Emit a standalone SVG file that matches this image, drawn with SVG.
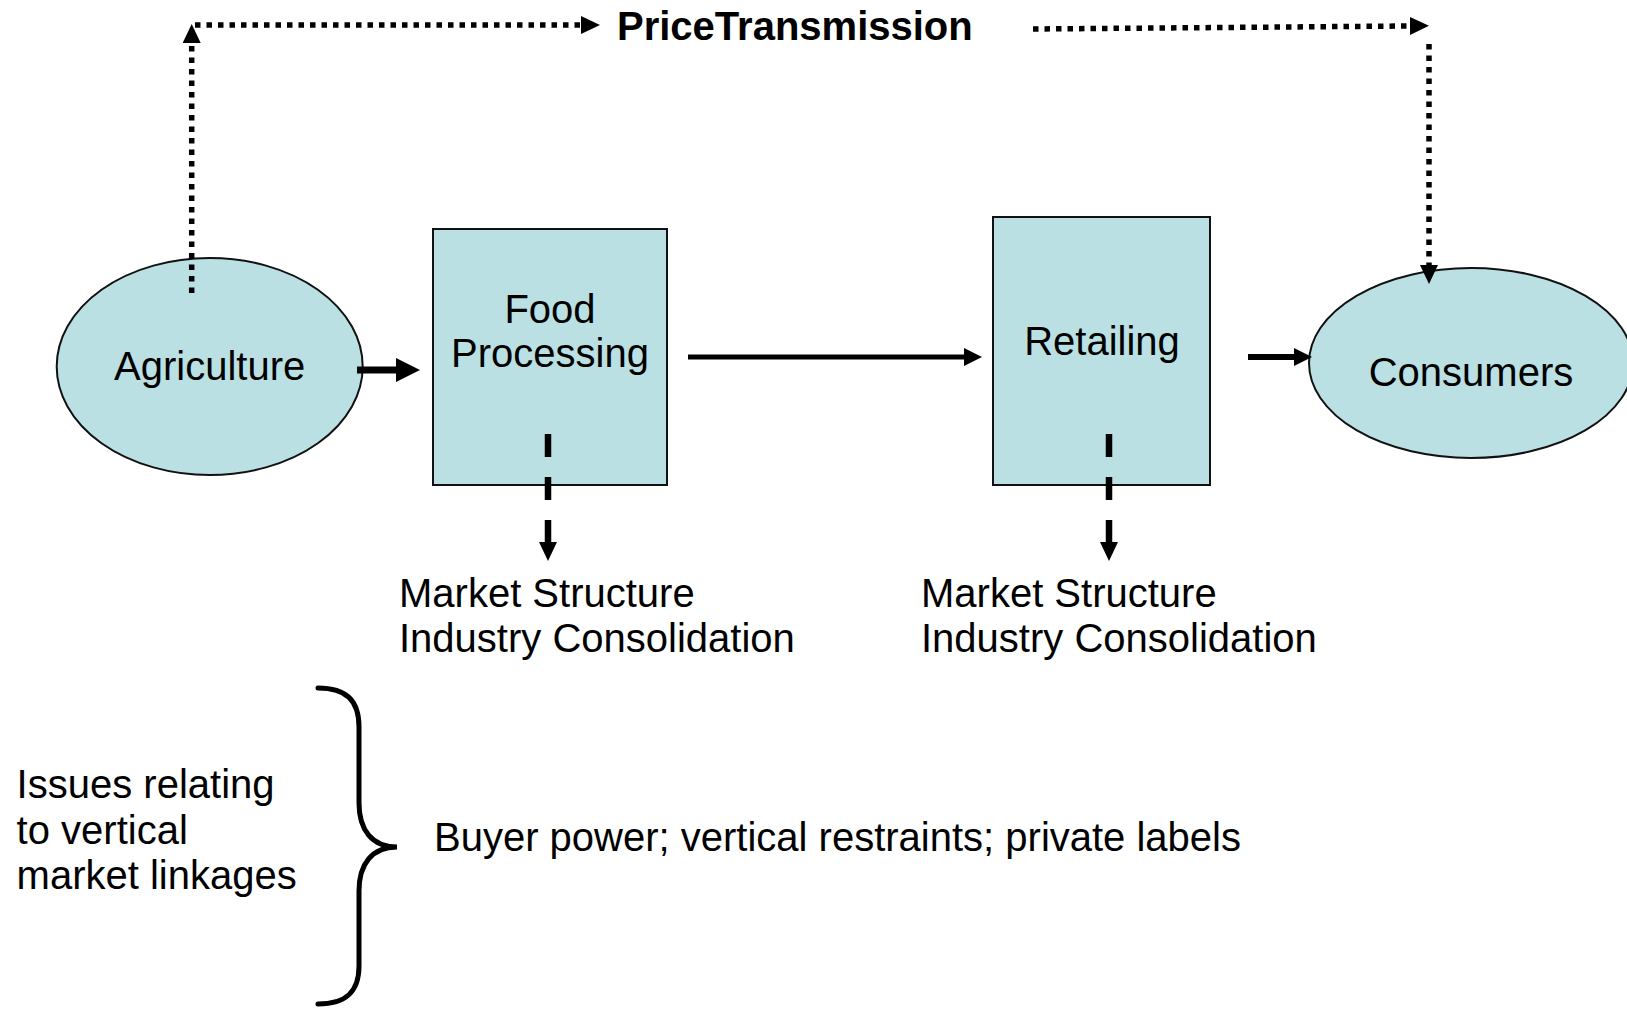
<svg xmlns="http://www.w3.org/2000/svg" width="1627" height="1011" viewBox="0 0 1627 1011">
  <style>
    .node-fill { fill: #BAE0E3; stroke: #111; stroke-width: 2; }
    .lbl { font-family: "Liberation Sans", Arial, sans-serif; font-size: 40px; fill: #000; }
    .mid { text-anchor: middle; }
    .title { font-family: "Liberation Sans", Arial, sans-serif; font-size: 40px; font-weight: bold; fill: #000; }
    .solid { fill: none; stroke: #000; stroke-linecap: butt; }
    .dotted { fill: none; stroke: #000; stroke-width: 5.5; stroke-dasharray: 5.5 6; }
    .dashed { fill: none; stroke: #000; stroke-width: 6.5; stroke-dasharray: 23 20; }
  </style>
  <defs>
    <marker id="head-lg" markerUnits="userSpaceOnUse" markerWidth="24" markerHeight="24" viewBox="0 0 10 10" refX="0" refY="5" orient="auto">
      <path d="M0,0 L10,5 L0,10 Z" fill="#000"/>
    </marker>
    <marker id="head-md" markerUnits="userSpaceOnUse" markerWidth="18" markerHeight="18" viewBox="0 0 10 10" refX="0" refY="5" orient="auto">
      <path d="M0,0 L10,5 L0,10 Z" fill="#000"/>
    </marker>
    <marker id="head-sm" markerUnits="userSpaceOnUse" markerWidth="19" markerHeight="18" viewBox="0 0 10 10" refX="0" refY="5" orient="auto" preserveAspectRatio="none">
      <path d="M0,0 L10,5 L0,10 Z" fill="#000"/>
    </marker>
  </defs>

  <!-- Nodes -->
  <g id="agriculture">
    <ellipse class="node-fill" cx="209.7" cy="366.5" rx="153" ry="108.5"/>
    <text class="lbl mid" x="209.7" y="380">Agriculture</text>
  </g>
  <g id="food-processing">
    <rect class="node-fill" x="433" y="229" width="234" height="256"/>
    <text class="lbl mid" x="550" y="323">Food</text>
    <text class="lbl mid" x="550" y="367">Processing</text>
  </g>
  <g id="retailing">
    <rect class="node-fill" x="993" y="217" width="217" height="268"/>
    <text class="lbl mid" x="1102" y="355">Retailing</text>
  </g>
  <g id="consumers">
    <ellipse class="node-fill" cx="1471" cy="363" rx="162" ry="95"/>
    <text class="lbl mid" x="1471" y="386">Consumers</text>
  </g>
  <g id="price-transmission">
    <text class="title" x="617" y="40">PriceTransmission</text>
  </g>
  <g id="market-structure-processing">
    <text class="lbl" x="399" y="607">Market Structure</text>
    <text class="lbl" x="399" y="652">Industry Consolidation</text>
  </g>
  <g id="market-structure-retailing">
    <text class="lbl" x="921" y="607">Market Structure</text>
    <text class="lbl" x="921" y="652">Industry Consolidation</text>
  </g>
  <g id="vertical-issues">
    <text class="lbl" x="16.6" y="798">Issues relating</text>
    <text class="lbl" x="16.6" y="844">to vertical</text>
    <text class="lbl" x="16.6" y="889">market linkages</text>
  </g>
  <g id="vertical-brace">
    <path d="M318,688 C346,688 359,700 359,727 L359,803 C359,830 372,847 397,847 C372,847 359,864 359,891 L359,966 C359,992 346,1004 318,1004" fill="none" stroke="#000" stroke-width="5" stroke-linecap="round"/>
  </g>
  <g id="vertical-linkages">
    <text class="lbl" x="434" y="851">Buyer power; vertical restraints; private labels</text>
  </g>

  <!-- Connectors -->
  <g id="connectors">
    <!-- supply chain flow -->
    <line class="solid" x1="357" y1="370" x2="396" y2="370" stroke-width="7" marker-end="url(#head-lg)"/>
    <line class="solid" x1="688" y1="357" x2="964" y2="357" stroke-width="5" marker-end="url(#head-md)"/>
    <line class="solid" x1="1248" y1="357" x2="1294" y2="357" stroke-width="6" marker-end="url(#head-md)"/>
    <!-- price transmission path -->
    <line class="dotted" x1="191.7" y1="293" x2="191.7" y2="43" marker-end="url(#head-sm)"/>
    <line class="dotted" x1="195" y1="25" x2="581" y2="25" marker-end="url(#head-sm)"/>
    <line class="dotted" x1="1033" y1="29" x2="1410" y2="26" marker-end="url(#head-sm)"/>
    <line class="dotted" x1="1429" y1="44" x2="1429" y2="265" marker-end="url(#head-sm)"/>
    <!-- market structure links -->
    <line class="dashed" x1="548" y1="434" x2="548" y2="542" marker-end="url(#head-sm)"/>
    <line class="dashed" x1="1109" y1="434" x2="1109" y2="542" marker-end="url(#head-sm)"/>
  </g>
</svg>
